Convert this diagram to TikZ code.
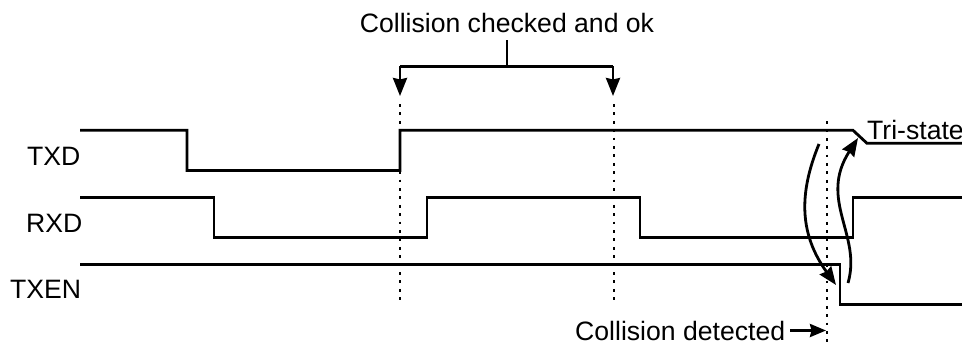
\documentclass[tikz,border=0pt]{standalone}
\usepackage{fontspec}
\setmainfont{Liberation Sans}
\usetikzlibrary{arrows.meta}
\tikzset{
  sig/.style={line width=2.8pt,line join=miter},
  guide/.style={line width=2.8pt,dash pattern=on 2.8pt off 5.6pt},
  pointer/.style={line width=2.8pt,-{Stealth[length=18pt,width=14pt,inset=1.5pt]}},
  lab/.style={inner sep=0pt,font=\fontsize{26.6pt}{30pt}\selectfont},
}
\begin{document}
\begin{tikzpicture}[x=1pt,y=-1pt]
\useasboundingbox (0,0) rectangle (962,343);
% signals
\draw[sig] (80,130.3) -- (187,130.3) -- (187,170.5) -- (400,170.5) -- (400,130.3) -- (853,130.3) -- (867,143.3) -- (962,143.3);
\draw[sig] (80,197.2) -- (214,197.2) -- (214,237.5) -- (427,237.5) -- (427,197.2) -- (640,197.2) -- (640,237.5) -- (853,237.5) -- (853,197.2) -- (962,197.2);
\draw[sig] (80,264.3) -- (840,264.3) -- (840,304.3) -- (962,304.3);
% guides
\draw[guide] (400,104) -- (400,300);
\draw[guide] (614,104) -- (614,300);
\draw[guide] (827,121) -- (827,343);
% labels
\node[lab,anchor=base west] (txd) at (27,165) {TXD};
\node[lab,anchor=base west] (rxd) at (26,232) {RXD};
\node[lab,anchor=base west] (txen) at (10,298) {TXEN};
\node[lab,anchor=base] (ok) at (507,32) {Collision checked and ok};
\node[lab,anchor=base west] (tri) at (867,139) {Tri-state};
\node[lab,anchor=base west] (det) at (575,340) {Collision detected};
% bracket
\coordinate (bj) at (507,66.3);
\coordinate (bl) at (400,66.3);
\coordinate (br) at (613,66.3);
\coordinate (al) at (400,96);
\coordinate (ar) at (613,96);
\draw[sig] (507,40) -- (bj);
\draw[pointer] (al |- bj) -- (al);
\draw[pointer] (ar |- bj) -- (ar);
\draw[sig] (bl) -- (br);
% collision-detected arrow
\coordinate (dend) at (826,330.5);
\draw[line width=2.8pt,-{Stealth[length=16pt,width=13pt,inset=1.5pt]}] (790,330.5) -- (dend);
% curved arrows
\draw[pointer] (819,144) .. controls (798,195) and (800,235) .. (836,285);
\draw[pointer] (848,283) .. controls (862,235) and (818,200) .. (858,138);
\end{tikzpicture}
\end{document}
